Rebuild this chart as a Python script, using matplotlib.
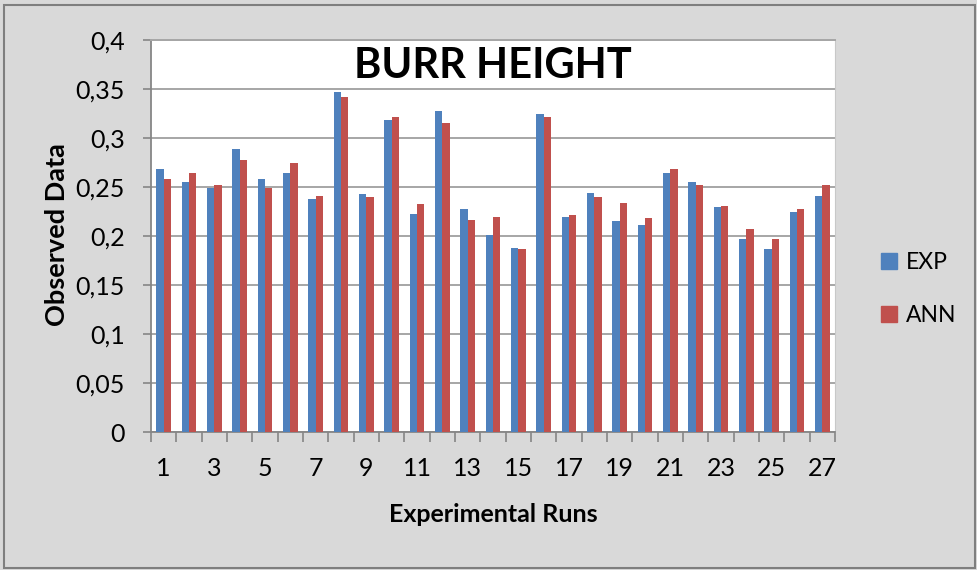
import numpy as np
import matplotlib
matplotlib.use("Agg")
import matplotlib.pyplot as plt
from matplotlib.patches import Rectangle, Patch

# Burr height, experimental vs ANN prediction, 27 runs
runs = [str(i) for i in range(1, 28)]
exp_vals = [0.268, 0.255, 0.249, 0.289, 0.258, 0.264, 0.238, 0.347, 0.243,
            0.318, 0.222, 0.328, 0.228, 0.201, 0.188, 0.324, 0.219, 0.244,
            0.215, 0.211, 0.264, 0.255, 0.230, 0.197, 0.187, 0.224, 0.241]
ann_vals = [0.258, 0.264, 0.252, 0.278, 0.249, 0.275, 0.241, 0.342, 0.240,
            0.321, 0.233, 0.315, 0.216, 0.219, 0.187, 0.321, 0.221, 0.240,
            0.234, 0.218, 0.268, 0.252, 0.231, 0.207, 0.197, 0.228, 0.252]
yticks = [0, 0.05, 0.1, 0.15, 0.2, 0.25, 0.3, 0.35, 0.4]

BG = '#d9d9d9'
C_EXP = '#4f81bd'
C_ANN = '#c0504d'
GRID = '#a6a6a6'
FONT = ['Lato', 'DejaVu Sans']

W, H = 977, 570
fig = plt.figure(figsize=(W / 100, H / 100), dpi=100, facecolor=BG)
ax = fig.add_axes([151 / W, 1 - 432 / H, (835 - 151) / W, (432 - 40) / H])
ax.set_facecolor('white')

x = np.arange(len(runs))
bw = 0.29
ax.bar(x - bw / 2, exp_vals, width=bw, color=C_EXP, zorder=3)
ax.bar(x + bw / 2, ann_vals, width=bw, color=C_ANN, zorder=3)

ax.set_xlim(-0.5, len(runs) - 0.5)
ax.set_ylim(0, 0.4)
ax.set_yticks(yticks)
ax.set_yticklabels([('%g' % v).replace('.', ',') for v in yticks],
                   family=FONT, fontsize=18)
ax.yaxis.grid(True, color=GRID, linewidth=1.4, zorder=0)
ax.tick_params(axis='y', length=6, width=1.2, color='#868686', pad=13)

# category axis: tick marks between categories, labels on odd runs
ax.set_xticks(np.arange(len(runs) + 1) - 0.5)
ax.set_xticklabels([])
ax.tick_params(axis='x', which='major', length=7, width=1.2, color='#868686')
ax.set_xticks(x[::2], minor=True)
ax.set_xticklabels(runs[::2], minor=True, family=FONT, fontsize=18)
ax.tick_params(axis='x', which='minor', length=0, pad=18)

for s in ['left', 'bottom']:
    ax.spines[s].set_color('#868686')
    ax.spines[s].set_linewidth(1.3)
ax.spines['top'].set_color(GRID)
ax.spines['top'].set_linewidth(1.4)
ax.spines['right'].set_color('#c8c8c8')

ax.text(0.5, 0.933, 'BURR HEIGHT', transform=ax.transAxes, ha='center',
        va='center', family=FONT, fontsize=30, fontweight='bold', zorder=5)
fig.text(57 / W, 1 - 235 / H, 'Observed Data', rotation=90, ha='center',
         va='center', family=FONT, fontsize=19.5, fontweight='bold')
fig.text(493 / W, 1 - 515 / H, 'Experimental Runs', ha='center',
         va='center', family=FONT, fontsize=18, fontweight='bold')

handles = [Patch(color=C_EXP), Patch(color=C_ANN)]
fig.legend(handles, ['EXP', 'ANN'], loc='center left',
           bbox_to_anchor=(860 / W, 1 - 289 / H), frameon=False,
           prop={'family': FONT, 'size': 16.5}, handlelength=0.7,
           handleheight=0.7, handletextpad=0.4, labelspacing=1.4)

fig.patches.append(Rectangle((4 / W, 1 - 568 / H), 971 / W, 563 / H,
                             transform=fig.transFigure, fill=False,
                             edgecolor='#7f7f7f', linewidth=1.5))

fig.savefig('out.png', dpi=100, facecolor=BG)
